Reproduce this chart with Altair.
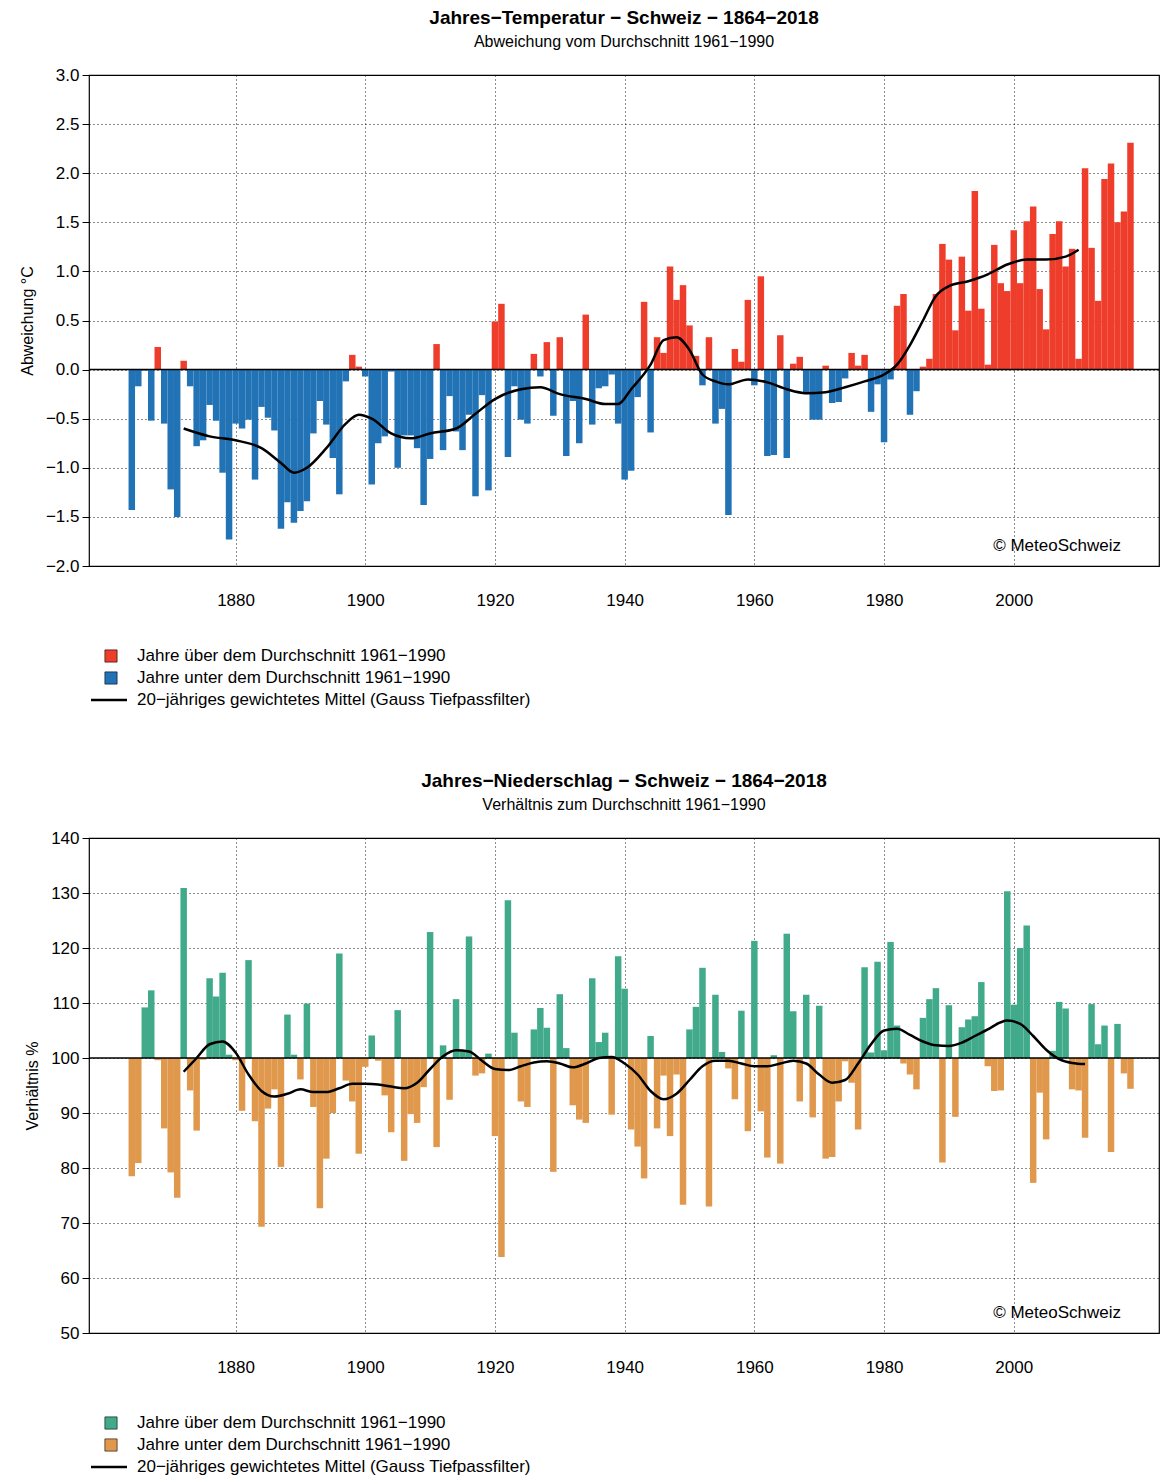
import altair as alt
import pandas as pd

years = list(range(1864, 2019))

# Temperaturabweichung (°C) vom Mittel 1961-1990
temp = [
    -1.43, -0.17, -0.01, -0.52, 0.23, -0.55, -1.22, -1.50, 0.09, -0.17,
    -0.78, -0.72, -0.36, -0.52, -1.05, -1.73, -0.55, -0.60, -0.51, -1.12,
    -0.38, -0.49, -0.62, -1.62, -1.35, -1.56, -1.44, -1.34, -0.65, -0.32,
    -0.56, -0.90, -1.27, -0.12, 0.15, 0.03, -0.07, -1.17, -0.75, -0.68,
    -0.02, -1.00, -0.67, -0.67, -0.80, -1.38, -0.91, 0.26, -0.82, -0.27,
    -0.63, -0.82, -0.46, -1.29, -0.26, -1.23, 0.49, 0.67, -0.89, -0.17,
    -0.51, -0.55, 0.16, -0.07, 0.28, -0.47, 0.33, -0.88, -0.32, -0.75,
    0.56, -0.56, -0.19, -0.17, -0.05, -0.55, -1.12, -1.03, -0.28, 0.69,
    -0.64, 0.33, 0.17, 1.05, 0.71, 0.86, 0.45, 0.14, -0.16, 0.33,
    -0.55, -0.40, -1.48, 0.21, 0.08, 0.71, -0.16, 0.95, -0.88, -0.87,
    0.35, -0.90, 0.06, 0.13, -0.25, -0.51, -0.51, 0.04, -0.34, -0.33,
    -0.09, 0.17, 0.04, 0.15, -0.43, -0.15, -0.74, -0.10, 0.65, 0.77,
    -0.46, -0.22, 0.03, 0.11, 0.77, 1.28, 1.12, 0.40, 1.15, 0.60,
    1.82, 0.62, 0.05, 1.27, 0.88, 0.80, 1.42, 0.88, 1.51, 1.66,
    0.82, 0.41, 1.38, 1.51, 1.05, 1.23, 0.11, 2.05, 1.24, 0.70,
    1.94, 2.10, 1.50, 1.61, 2.31,
]

# Niederschlag in % des Mittels 1961-1990
prec = [
    78.5, 80.9, 109.2, 112.3, 99.6, 87.2, 79.2, 74.6, 130.9, 94.1,
    86.8, 99.7, 114.5, 111.2, 115.5, 100.6, 99.6, 90.4, 117.8, 88.5,
    69.3, 90.8, 94.3, 80.2, 107.9, 100.6, 96.1, 109.9, 91.1, 72.7,
    81.7, 90.0, 119.0, 95.9, 92.1, 82.6, 98.4, 104.1, 99.5, 93.2,
    86.5, 108.7, 81.3, 89.8, 88.2, 94.7, 122.9, 83.8, 102.3, 92.4,
    110.7, 101.4, 122.1, 96.8, 97.2, 100.8, 85.8, 63.8, 128.7, 104.6,
    92.1, 91.1, 105.2, 109.1, 105.5, 79.3, 111.6, 101.8, 91.4, 88.8,
    88.2, 114.5, 102.9, 104.6, 89.7, 118.5, 112.6, 87.0, 83.9, 78.1,
    104.0, 87.2, 96.8, 85.8, 97.0, 73.3, 105.2, 109.3, 116.4, 73.0,
    111.5, 101.1, 98.1, 92.5, 108.6, 86.7, 121.3, 90.3, 81.9, 100.5,
    80.8, 122.6, 108.5, 92.1, 111.5, 89.2, 109.5, 81.7, 82.0, 92.1,
    99.4, 95.5, 87.0, 116.5, 101.0, 117.5, 101.4, 121.1, 105.9, 99.0,
    97.0, 94.3, 107.3, 110.7, 112.7, 81.0, 109.6, 89.3, 105.6, 107.0,
    107.6, 113.8, 98.5, 94.0, 94.1, 130.3, 109.7, 120.0, 124.1, 77.3,
    93.7, 85.2, 101.3, 110.2, 109.0, 94.3, 94.1, 85.5, 109.8, 102.5,
    105.9, 82.9, 106.2, 97.2, 94.4,
]

# 20-jähriges Gauss-Mittel
t_smooth_years = [1872, 1876, 1880, 1884, 1887, 1889, 1891, 1894, 1897, 1899, 1901, 1904,
                  1907, 1910, 1914, 1917, 1920, 1924, 1927, 1930, 1934, 1937, 1939, 1941,
                  1944, 1946, 1948, 1950, 1952, 1954, 1956, 1959, 1962, 1965, 1968, 1971,
                  1974, 1977, 1980, 1982, 1984, 1986, 1988, 1990, 1993, 1996, 1999, 2002,
                  2005, 2008, 2010]
t_smooth = [-0.6, -0.68, -0.72, -0.8, -0.95, -1.05, -1.0, -0.8, -0.55, -0.46, -0.5, -0.65,
            -0.7, -0.65, -0.6, -0.45, -0.3, -0.2, -0.18, -0.25, -0.3, -0.35, -0.35, -0.2,
            0.05, 0.3, 0.33, 0.2, -0.05, -0.12, -0.15, -0.1, -0.13, -0.2, -0.24, -0.23,
            -0.18, -0.12, -0.05, 0.05, 0.25, 0.5, 0.75, 0.85, 0.9, 0.97, 1.07, 1.12,
            1.12, 1.15, 1.22]

p_smooth_years = [1872, 1874, 1876, 1878, 1880, 1882, 1884, 1886, 1888, 1890, 1892, 1894,
                  1896, 1898, 1900, 1902, 1904, 1906, 1908, 1910, 1912, 1914, 1916, 1918,
                  1920, 1922, 1924, 1926, 1928, 1930, 1932, 1934, 1936, 1938, 1940, 1942,
                  1944, 1946, 1948, 1950, 1952, 1954, 1956, 1958, 1960, 1962, 1964, 1966,
                  1968, 1970, 1972, 1974, 1976, 1978, 1980, 1982, 1984, 1986, 1988, 1990,
                  1992, 1994, 1996, 1998, 1999, 2001, 2003, 2005, 2007, 2009, 2011]
p_smooth = [97.5, 100, 102.5, 103, 101, 97, 94, 93, 93.5, 94.3, 93.8, 93.8,
            94.5, 95.3, 95.3, 95.2, 94.8, 94.5, 95.5, 98, 100.3, 101.4, 101.2, 99.5,
            98, 97.8, 98.5, 99.2, 99.4, 99, 98.3, 99, 100, 100.2, 99, 97,
            94, 92.5, 93.5, 96, 98.5, 99.5, 99.5, 99, 98.5, 98.5, 99, 99.5,
            99, 97, 95.5, 96, 99, 102.5, 105, 105.3, 104.2, 103, 102.3, 102.2,
            102.8, 104, 105.2, 106.5, 106.8, 106.2, 104, 101.5, 99.8, 99.1, 98.9]

FONT = "Liberation Sans"
W, H1, H2 = 1070, 491, 495
XDOM = [1857.4, 2022.4]


def panel(values, base, smooth_years, smooth_vals, ydom, ystep, ytitle, cols, title, sub, h):
    df = pd.DataFrame({"year": years, "v": values})
    df["pos"] = df["v"] >= base
    sm = pd.DataFrame({"year": smooth_years, "v": smooth_vals})
    x = alt.X("x0:Q", scale=alt.Scale(domain=XDOM, nice=False, zero=False),
              axis=alt.Axis(values=list(range(1880, 2001, 20)), format="d", title=None,
                            grid=True, gridColor="black", gridDash=[1, 3], gridOpacity=0.9,
                            ticks=False, domain=False, labelPadding=26, labelFontSize=17))
    n = int(round((ydom[1] - ydom[0]) / ystep)) + 1
    y = alt.Y("v:Q", scale=alt.Scale(domain=ydom, nice=False, zero=False),
              axis=alt.Axis(values=[ydom[0] + i * ystep for i in range(n)],
                            format=".1f" if ystep < 1 else "d", title=ytitle, titleFontSize=16,
                            titleFontWeight="normal", titlePadding=10,
                            grid=True, gridColor="black", gridDash=[1, 3], gridOpacity=0.9,
                            tickSize=7, tickColor="black", domain=False, labelFontSize=17,
                            labelPadding=3))
    bars = alt.Chart(df).transform_calculate(
        x0="datum.year - 0.5", x1="datum.year + 0.5", b=str(base)
    ).mark_bar().encode(
        x=x, x2="x1:Q", y=y, y2="b:Q",
        color=alt.Color("pos:N", scale=alt.Scale(domain=[True, False], range=cols), legend=None),
    )
    zero = alt.Chart(pd.DataFrame({"b": [base]})).mark_rule(color="black", strokeWidth=1.5).encode(y="b:Q")
    line = alt.Chart(sm).mark_line(color="black", strokeWidth=2.5, interpolate="monotone").encode(
        x=alt.X("year:Q"), y="v:Q")
    copy = alt.Chart(pd.DataFrame({"t": ["© MeteoSchweiz"]})).mark_text(
        align="right", font=FONT, fontSize=17, color="black").encode(
        text="t:N", x=alt.value(W - 38), y=alt.value(h - 20))
    return alt.layer(bars, zero, line, copy).properties(
        width=W, height=h, view=alt.ViewBackground(stroke="black", strokeWidth=1.2),
        title=alt.TitleParams(title, subtitle=sub, font=FONT, fontSize=19, fontWeight="bold",
                              subtitleFont=FONT, subtitleFontSize=16, subtitlePadding=6,
                              anchor="middle", offset=16),
    )


def legend(cols):
    labs = ["Jahre über dem Durchschnitt 1961−1990",
            "Jahre unter dem Durchschnitt 1961−1990",
            "20−jähriges gewichtetes Mittel (Gauss Tiefpassfilter)"]
    ld = pd.DataFrame({"label": labs, "i": [0, 1, 2]})
    ysc = alt.Y("i:O", axis=None, scale=alt.Scale(paddingInner=0, paddingOuter=0))
    sq = alt.Chart(ld).transform_filter("datum.i < 2").mark_square(
        size=150, opacity=1, stroke="black", strokeWidth=0.6).encode(
        x=alt.value(22), y=ysc,
        color=alt.Color("i:O", scale=alt.Scale(domain=[0, 1], range=cols), legend=None))
    ln = alt.Chart(ld).transform_filter("datum.i == 2").mark_rule(color="black", strokeWidth=2.5).encode(
        x=alt.value(2), x2=alt.value(38), y=ysc)
    tx = alt.Chart(ld).mark_text(align="left", font=FONT, fontSize=17).encode(
        x=alt.value(48), y=ysc, text="label:N")
    return alt.layer(sq, ln, tx).properties(
        width=W, height=66, view=alt.ViewBackground(strokeOpacity=0, strokeWidth=0))


TCOL = ["#EF3D2C", "#2272B6"]
PCOL = ["#41AA8A", "#E0984C"]

top = panel(temp, 0, t_smooth_years, t_smooth, [-2, 3], 0.5, "Abweichung °C", TCOL,
            "Jahres−Temperatur − Schweiz − 1864−2018",
            "Abweichung vom Durchschnitt 1961−1990", H1)
bottom = panel(prec, 100, p_smooth_years, p_smooth, [50, 140], 10, "Verhältnis %", PCOL,
               "Jahres−Niederschlag − Schweiz − 1864−2018",
               "Verhältnis zum Durchschnitt 1961−1990", H2)

chart = alt.vconcat(
    alt.vconcat(top, legend(TCOL), spacing=36).resolve_scale(color="independent"),
    alt.vconcat(bottom, legend(PCOL), spacing=36).resolve_scale(color="independent"),
    spacing=60,
).resolve_scale(color="independent").properties(
    padding={"left": 10, "right": 0, "top": 0, "bottom": 5}
).configure_view(strokeOpacity=0).configure(font=FONT).configure_axis(
    labelFont=FONT, titleFont=FONT, labelColor="black", titleColor="black")

chart.save("out.html", embed_options={"renderer": "svg", "actions": False})
